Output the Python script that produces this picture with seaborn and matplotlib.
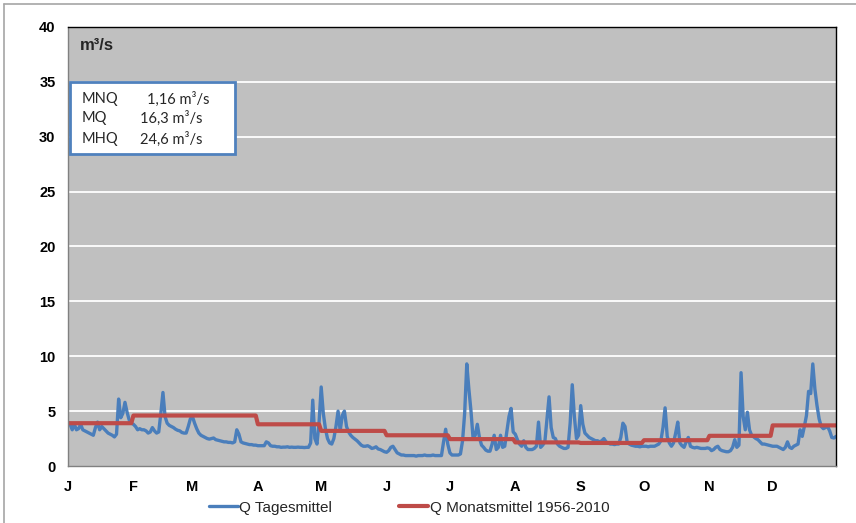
import numpy as np
import pandas as pd
import matplotlib
matplotlib.use("Agg")
import matplotlib.pyplot as plt
from matplotlib.lines import Line2D
from matplotlib.patches import Rectangle
import seaborn as sns

months = ["J", "F", "M", "A", "M", "J", "J", "A", "S", "O", "N", "D"]
month_days = [31, 28, 31, 30, 31, 30, 31, 31, 30, 31, 30, 31]

# Q Tagesmittel, daily values (m³/s)
jan = [4.0, 3.8, 3.3, 3.8, 3.3, 3.4, 3.8, 3.3, 3.2, 3.1, 3.0, 2.9, 2.8, 3.5, 4.0, 3.3,
       3.6, 3.4, 3.2, 3.0, 2.9, 2.8, 2.65, 2.9, 6.1, 4.4, 4.8, 5.8, 4.9, 4.2, 3.9]
feb = [3.8, 3.6, 3.3, 3.4, 3.3, 3.3, 3.2, 3.0, 3.1, 3.5, 3.2, 3.0, 3.1, 4.8, 6.7, 4.5,
       3.9, 3.7, 3.6, 3.5, 3.35, 3.25, 3.2, 3.05, 3.0, 3.0, 3.6, 4.3]
mar = [4.5, 3.9, 3.4, 3.0, 2.8, 2.7, 2.6, 2.5, 2.45, 2.5, 2.55, 2.4, 2.35, 2.3, 2.25, 2.2,
       2.2, 2.15, 2.15, 2.1, 2.2, 3.3, 2.9, 2.2, 2.1, 2.05, 2.0, 1.95, 1.95, 1.9, 1.9]
apr = [1.85, 1.85, 1.85, 1.85, 2.2, 2.1, 1.85, 1.8, 1.8, 1.75, 1.75, 1.7, 1.72, 1.72, 1.75,
       1.7, 1.72, 1.7, 1.7, 1.72, 1.7, 1.7, 1.68, 1.7, 1.7, 2.1, 6.0, 2.5, 2.0, 4.0]
may = [7.2, 4.8, 3.4, 2.5, 2.1, 2.0, 2.5, 3.6, 5.0, 3.2, 4.6, 5.0, 3.6, 3.1, 2.8, 2.6,
       2.45, 2.3, 2.1, 1.9, 1.8, 1.8, 1.85, 1.75, 1.6, 1.65, 1.75, 1.55, 1.5, 1.4, 1.3]
jun = [1.25, 1.4, 1.7, 1.8, 1.5, 1.2, 1.1, 1.0, 1.0, 0.95, 0.95, 0.95, 0.95, 0.95, 0.9,
       0.95, 0.95, 0.95, 1.0, 0.95, 0.95, 0.95, 1.0, 0.95, 0.95, 0.95, 0.95, 2.2, 3.35, 2.0]
jul = [1.2, 1.0, 1.0, 1.0, 1.0, 1.1, 2.3, 4.8, 9.3, 7.0, 5.0, 2.5, 2.8, 3.8, 2.6, 1.9,
       1.7, 1.45, 1.35, 1.35, 2.0, 2.8, 1.5, 1.7, 2.8, 1.7, 1.8, 3.15, 4.5, 5.25, 3.1]
aug = [2.9, 2.4, 2.0, 1.8, 2.3, 1.7, 1.5, 1.5, 1.5, 1.6, 1.8, 4.0, 1.7, 1.9, 2.2, 4.2,
       6.3, 3.5, 2.6, 2.5, 2.0, 1.8, 1.7, 1.6, 1.6, 1.7, 3.9, 7.4, 4.5, 2.5, 2.8]
sep = [5.5, 3.8, 3.0, 2.8, 2.6, 2.5, 2.4, 2.3, 2.3, 2.2, 2.3, 2.5, 2.2, 2.1, 2.0, 2.0,
       1.95, 2.0, 2.0, 2.6, 3.9, 3.6, 2.2, 2.0, 1.9, 1.85, 1.8, 1.8, 1.75, 1.8]
oct_ = [1.8, 1.8, 1.75, 1.8, 1.8, 1.8, 1.9, 2.0, 2.3, 3.5, 5.3, 2.7, 2.1, 1.8, 2.1, 3.0,
        4.0, 2.1, 1.85, 1.7, 2.2, 2.6, 1.8, 1.7, 1.65, 1.7, 1.65, 1.6, 1.6, 1.6, 1.65]
nov = [1.6, 1.4, 1.5, 1.7, 1.8, 1.5, 1.4, 1.35, 1.3, 1.3, 1.4, 1.7, 2.4, 1.7, 1.9, 8.5,
       4.5, 3.3, 4.9, 3.3, 2.8, 2.65, 2.5, 2.4, 2.2, 2.0, 2.0, 1.95, 1.9, 1.85]
dec = [1.8, 1.8, 1.8, 1.7, 1.6, 1.5, 1.7, 2.2, 1.7, 1.6, 1.8, 1.9, 2.0, 3.3, 2.7, 3.6,
       4.6, 6.8, 6.6, 9.3, 7.0, 5.5, 4.3, 3.6, 3.4, 3.5, 3.6, 3.2, 2.6, 2.55, 2.7]

# Q Monatsmittel 1956-2010
monthly_mean = [3.9, 4.6, 4.6, 3.8, 3.2, 2.8, 2.45, 2.15, 2.1, 2.35, 2.75, 3.7]

stats_names = ["MNQ", "MQ", "MHQ"]
stats_values = ["1,16 m³/s", "16,3 m³/s", "24,6 m³/s"]

daily = jan + feb + mar + apr + may + jun + jul + aug + sep + oct_ + nov + dec
df = pd.DataFrame({
    "day": np.arange(len(daily)),
    "Q Tagesmittel": daily,
    "Q Monatsmittel 1956-2010": np.repeat(monthly_mean, month_days),
})

sns.set_theme(style="white")
plt.rcParams["font.family"] = ["Liberation Sans", "DejaVu Sans"]

blue = "#4a7ebb"
red = "#be4b48"

fig = plt.figure(figsize=(8.56, 5.23), dpi=100)
ax = fig.add_axes([68 / 856, 1 - 466 / 523, 768 / 856, 439 / 523])
ax.set_facecolor("#c0c0c0")

sns.lineplot(data=df, x="day", y="Q Tagesmittel", ax=ax, color=blue, lw=2.4,
             label="Q Tagesmittel")
sns.lineplot(data=df, x="day", y="Q Monatsmittel 1956-2010", ax=ax, color=red, lw=3.0,
             label="Q Monatsmittel 1956-2010")
ax.get_legend().remove()

ax.set_xlim(0, len(daily) - 1)
ax.set_ylim(0, 40)
starts = list(np.cumsum([0] + month_days[:-1])) + [len(daily) - 1]
ax.set_xticks(starts)
ax.set_xticklabels(months + [""], fontsize=10.5, fontweight="bold")
ax.set_yticks(range(0, 41, 5))
ax.set_yticklabels([str(v) for v in range(0, 41, 5)], fontsize=10.5, fontweight="bold")
ax.set_xlabel("")
ax.set_ylabel("")
for y in range(5, 40, 5):
    ax.axhline(y, color="white", lw=1.3, zorder=0.5)
ax.tick_params(axis="both", direction="out", length=5, width=1, color="#808080",
               labelcolor="black", pad=4)
ax.tick_params(axis="x", pad=5)
ax.spines["left"].set_color("#808080")
ax.spines["bottom"].set_color("#808080")
ax.spines["top"].set_color("black")
ax.spines["right"].set_color("black")
for s in ax.spines.values():
    s.set_linewidth(1.0)

fig.text(80 / 856, 1 - 46 / 523, "m³/s", fontsize=12, fontweight="bold", va="center")

box = Rectangle((70 / 856, 1 - 154 / 523), 165 / 856, 72 / 523, transform=fig.transFigure,
                facecolor="white", edgecolor="#4f81bd", lw=2.0, zorder=5)
fig.patches.append(box)
row_y = [99, 118, 139]
val_x = [147, 140, 140]
for name, val, yy, vx in zip(stats_names, stats_values, row_y, val_x):
    fig.text(82 / 856, 1 - yy / 523, name, fontsize=10.5, va="center", family="Lato", zorder=6)
    fig.text(vx / 856, 1 - yy / 523, val, fontsize=10.5, va="center", family="Lato", zorder=6)

# chart area border
fig.add_artist(Line2D([4 / 856, 1.0], [1 - 4 / 523, 1 - 4 / 523], transform=fig.transFigure,
                      color="#a6a6a6", lw=1.2))
fig.add_artist(Line2D([4 / 856, 4 / 856], [0.0, 1 - 4 / 523], transform=fig.transFigure,
                      color="#a6a6a6", lw=1.2))

handles = [Line2D([], [], color=blue, lw=2.4), Line2D([], [], color=red, lw=3.0)]
fig.legend(handles, ["Q Tagesmittel", "Q Monatsmittel 1956-2010"], loc="center",
           bbox_to_anchor=(0.478, 0.029), ncol=2, frameon=False, fontsize=11,
           handlelength=1.9, handletextpad=0.1, columnspacing=4.4)

fig.savefig("out.png", dpi=100)
